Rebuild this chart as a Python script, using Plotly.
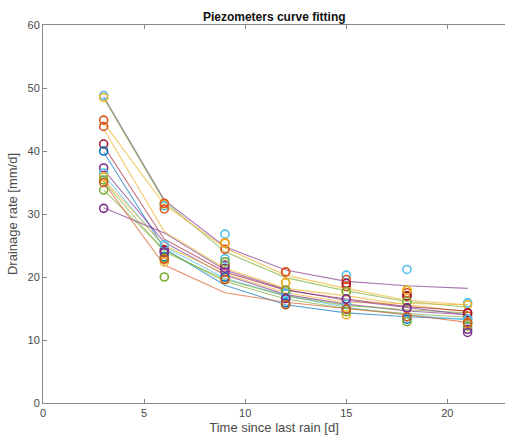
import plotly.graph_objects as go

# Sampling days after the last rain event
days = [3, 6, 9, 12, 15, 18, 21]

# MATLAB default colour order
BLUE, ORANGE, YELLOW, PURPLE = "#0072BD", "#D95319", "#EDB120", "#7E2F8E"
GREEN, LBLUE, DRED = "#77AC30", "#4DBEEE", "#A2142F"

# Measured drainage rates per piezometer [mm/d]
p01 = [48.8, 31.3, 26.8, 17.4, 20.3, 21.2, 15.9]
p02 = [48.5, 31.6, 25.4, 19.1, 17.7, 17.9, 15.6]
p03 = [44.9, 31.7, 24.4, 20.8, 19.6, 17.5, 14.3]
p04 = [43.9, 30.8, 25.4, 20.8, 18.5, 17.0, 13.8]
p05 = [41.1, 24.3, 21.9, 17.9, 19.0, 17.0, 14.3]
p06 = [40.0, 23.2, 20.0, 15.9, 14.9, 13.3, 13.3]
p07 = [37.3, 24.0, 21.4, 16.6, 16.5, 15.1, 11.7]
p08 = [36.5, 25.1, 22.9, 17.4, 15.7, 13.7, 13.3]
p09 = [35.9, 22.4, 25.4, 19.1, 14.0, 17.9, 12.7]
p10 = [35.4, 23.0, 22.4, 17.9, 17.7, 16.1, 12.2]
p11 = [33.8, 20.0, 19.6, 15.6, 14.5, 12.9, 12.7]
p12 = [30.9, 23.9, 20.8, 16.6, 16.5, 15.1, 11.2]
p13 = [35.0, 22.8, 19.6, 15.6, 14.9, 13.7, 12.7]

# Fitted drainage curves evaluated on the same days [mm/d]
f01 = [48.6, 32.2, 24.8, 21.1, 19.3, 18.6, 18.2]
f02 = [48.4, 32.0, 24.0, 19.9, 17.8, 16.1, 15.2]
f03 = [44.5, 31.5, 24.6, 20.3, 18.2, 16.3, 15.6]
f04 = [43.5, 27.2, 21.4, 18.2, 17.0, 15.6, 14.5]
f05 = [40.8, 26.0, 20.8, 17.9, 16.5, 15.3, 14.6]
f06 = [39.8, 24.5, 18.7, 15.6, 14.3, 13.7, 13.3]
f07 = [37.0, 25.5, 20.3, 17.2, 15.7, 14.6, 14.0]
f08 = [36.2, 24.8, 19.8, 17.0, 15.2, 14.0, 13.2]
f09 = [35.5, 25.0, 20.5, 17.5, 16.0, 15.8, 15.6]
f10 = [35.2, 24.0, 19.6, 17.0, 15.5, 14.8, 14.3]
f11 = [33.8, 24.3, 19.3, 16.5, 15.0, 14.2, 13.6]
f12 = [31.0, 27.0, 21.1, 18.0, 16.3, 15.2, 14.0]
f13 = [35.0, 21.9, 17.5, 16.0, 15.0, 14.0, 12.8]

measured = [p01, p02, p03, p04, p05, p06, p07, p08, p09, p10, p11, p12, p13]
fitted = [f01, f02, f03, f04, f05, f06, f07, f08, f09, f10, f11, f12, f13]
marker_colors = [LBLUE, YELLOW, ORANGE, ORANGE, DRED, BLUE, PURPLE,
                 LBLUE, YELLOW, GREEN, GREEN, PURPLE, ORANGE]
line_colors = [PURPLE, GREEN, YELLOW, YELLOW, DRED, BLUE, PURPLE,
               LBLUE, YELLOW, GREEN, GREEN, PURPLE, ORANGE]

fig = go.Figure()

# fitted curves underneath the measured points
for fit, col in zip(fitted, line_colors):
    fig.add_trace(go.Scatter(
        x=days, y=fit, mode="lines",
        line=dict(color=col, width=1.1), opacity=0.65,
        showlegend=False, hoverinfo="skip"))

for meas, col in zip(measured, marker_colors):
    fig.add_trace(go.Scatter(
        x=days, y=meas, mode="markers",
        marker=dict(symbol="circle-open", size=8, color=col,
                    line=dict(width=1.6, color=col)),
        showlegend=False))

axis_col = "#8a8a8a"
text_col = "#4a4a4a"
FONT = "Liberation Sans, Arial, Helvetica, sans-serif"

fig.update_layout(
    width=505, height=440,
    margin=dict(l=43, r=0, t=25, b=37),
    paper_bgcolor="white", plot_bgcolor="white",
    font=dict(family=FONT, size=11, color=text_col),
    title=dict(text="<b>Piezometers curve fitting</b>",
               x=0.5431, xanchor="center", y=0.962, yanchor="middle",
               font=dict(family=FONT, size=12, color="#111111")),
    xaxis=dict(range=[0, 22.85], tickvals=[0, 5, 10, 15, 20],
               ticks="inside", ticklen=4, tickcolor=axis_col,
               showline=True, linecolor=axis_col, linewidth=1,
               mirror="ticks", showgrid=False, zeroline=False,
               title=dict(text="Time since last rain [d]", standoff=4),
               tickfont=dict(size=11, color=text_col)),
    yaxis=dict(range=[0, 60], tickvals=[0, 10, 20, 30, 40, 50, 60],
               ticks="inside", ticklen=4, tickcolor=axis_col,
               showline=True, linecolor=axis_col, linewidth=1,
               showgrid=False, zeroline=False,
               title=dict(text="Drainage rate [mm/d]", standoff=6),
               tickfont=dict(size=11, color=text_col)),
)

fig.write_html("out.html")
